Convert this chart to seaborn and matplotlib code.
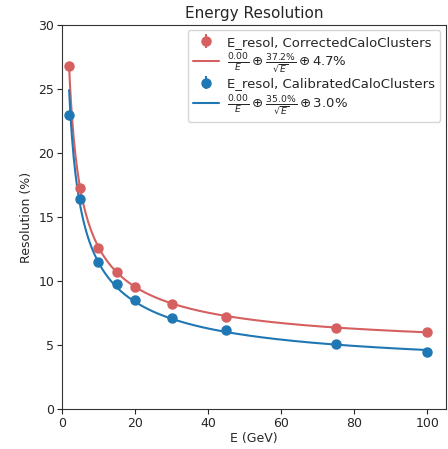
import numpy as np
import pandas as pd
import matplotlib
matplotlib.use("Agg")
import matplotlib.pyplot as plt
import seaborn as sns

energy = [2, 5, 10, 15, 20, 30, 45, 75, 100]
res_corrected = [26.8, 17.3, 12.6, 10.7, 9.5, 8.2, 7.2, 6.35, 6.0]
res_calibrated = [23.0, 16.4, 11.5, 9.8, 8.55, 7.1, 6.2, 5.05, 4.45]
err_corrected = [0.2, 0.15, 0.1, 0.1, 0.08, 0.07, 0.06, 0.05, 0.05]
err_calibrated = [0.2, 0.15, 0.1, 0.1, 0.08, 0.07, 0.06, 0.05, 0.05]

# fit parameters (a/E, b/sqrt(E), c)
fit_corrected = (0.00, 37.2, 4.7)
fit_calibrated = (0.00, 35.0, 3.0)

red = "#d65f5f"
blue = "#1f77b4"

sns.set_style("white")
plt.rcParams["font.size"] = 9

def resol(e, a, b, c):
    return np.sqrt((a / e) ** 2 + (b / np.sqrt(e)) ** 2 + c ** 2)

e_fine = np.linspace(2, 100, 400)
curves = pd.concat([
    pd.DataFrame({"E": e_fine, "R": resol(e_fine, *fit_corrected), "s": "corr"}),
    pd.DataFrame({"E": e_fine, "R": resol(e_fine, *fit_calibrated), "s": "calib"}),
])

def fit_label(a, b, c):
    return r"$\frac{%.2f}{E} \oplus \frac{%.1f\%%}{\sqrt{E}} \oplus %.1f\%%$" % (a, b, c)

fig, ax = plt.subplots(figsize=(4.48, 4.49), dpi=100)

ax.errorbar(energy, res_corrected, yerr=err_corrected, fmt="o", color=red,
            ms=6.5, label="E_resol, CorrectedCaloClusters")
sns.lineplot(data=curves[curves.s == "corr"], x="E", y="R", color=red, ax=ax,
             label=fit_label(*fit_corrected))
ax.errorbar(energy, res_calibrated, yerr=err_calibrated, fmt="o", color=blue,
            ms=6.5, label="E_resol, CalibratedCaloClusters")
sns.lineplot(data=curves[curves.s == "calib"], x="E", y="R", color=blue, ax=ax,
             label=fit_label(*fit_calibrated))

ax.set_xlim(0, 105)
ax.set_ylim(0, 30)
ax.set_title("Energy Resolution", fontsize=11, pad=5)
ax.set_xlabel("E (GeV)", labelpad=2)
ax.set_ylabel("Resolution (%)")
ax.tick_params(axis="both", which="both", direction="out", length=3.5, pad=2,
               left=True, bottom=True, labelsize=9)
for sp in ax.spines.values():
    sp.set_color("#333333")

h, l = ax.get_legend_handles_labels()
# errorbars are listed after lines; put them in plotting order
order = [l.index("E_resol, CorrectedCaloClusters"), l.index(fit_label(*fit_corrected)),
         l.index("E_resol, CalibratedCaloClusters"), l.index(fit_label(*fit_calibrated))]
ax.legend([h[i] for i in order], [l[i] for i in order], loc="upper right",
          fontsize=9.5, borderaxespad=0.4, labelspacing=0.2, handlelength=2.0,
          handletextpad=0.6)

fig.subplots_adjust(left=0.138, right=0.995, bottom=0.089, top=0.944)
fig.savefig("out.png", dpi=100)
